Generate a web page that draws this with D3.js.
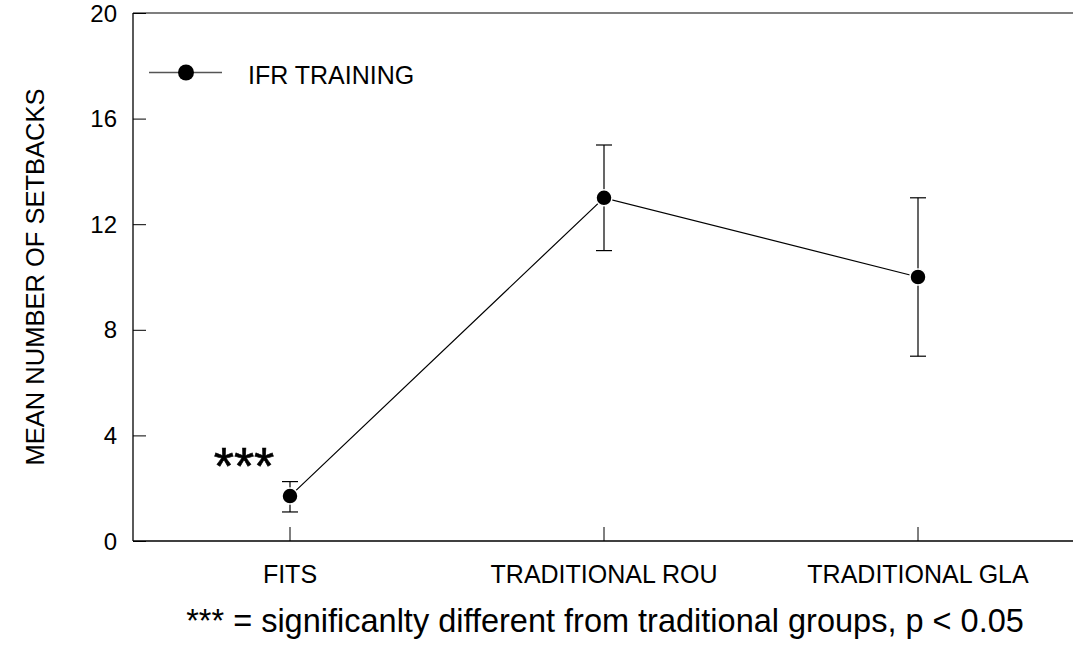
<!DOCTYPE html>
<html><head><meta charset="utf-8">
<script src="https://cdn.jsdelivr.net/npm/d3@7"></script>
<style>body{margin:0;background:#fff}svg{display:block}text{font-family:"Liberation Sans",Arial,sans-serif}</style>
</head><body>
<script>
const categories = ["FITS", "TRADITIONAL ROU", "TRADITIONAL GLA"];
const means = [1.7, 13.0, 10.0];
const upper = [2.25, 15.0, 13.0];
const lower = [1.1, 11.0, 7.0];
const yTicks = [0, 4, 8, 12, 16, 20];
const seriesName = "IFR TRAINING";

const W = 1073, H = 647;
const svg = d3.select("body").append("svg").attr("width", W).attr("height", H);
const x = d3.scaleBand().domain(categories).range([133, 1075]);
const y = d3.scaleLinear().domain([0, 20]).range([541, 13]);
const cx = d => x(d) + x.bandwidth() / 2;

// frame: left axis, bottom axis, top line
svg.append("line").attr("x1", 133).attr("x2", 1073).attr("y1", 13).attr("y2", 13).attr("stroke", "#555").attr("stroke-width", 1.5);
const yAxis = svg.append("g").attr("transform", "translate(133,0)")
  .call(d3.axisRight(y).tickValues(yTicks).tickSize(13).tickFormat(""));
const xAxis = svg.append("g").attr("transform", "translate(0,541)")
  .call(d3.axisTop(x).tickSize(14).tickFormat(""));
[yAxis, xAxis].forEach(g => {
  g.select(".domain").attr("stroke", "#000").attr("stroke-width", 1.3);
  g.selectAll(".tick line").attr("stroke", "#000").attr("stroke-width", 1);
});
xAxis.select(".domain").attr("d", "M133,0H1073");
yAxis.select(".domain").attr("d", "M0,541V13");

// tick labels
svg.selectAll(".ylab").data(yTicks).enter().append("text")
  .attr("x", 117).attr("y", d => y(d) + 8.5).attr("text-anchor", "end")
  .attr("font-size", 24).text(d => d);
svg.selectAll(".xlab").data(categories).enter().append("text")
  .attr("x", d => cx(d)).attr("y", 583).attr("text-anchor", "middle")
  .attr("font-size", 25).text(d => d);

// axis title
svg.append("text").attr("transform", "translate(44,277) rotate(-90)")
  .attr("text-anchor", "middle").attr("font-size", 25.5).text("MEAN NUMBER OF SETBACKS");

// footnote
svg.append("text").attr("x", 605).attr("y", 632).attr("text-anchor", "middle")
  .attr("font-size", 32.5).text("*** = significanlty different from traditional groups, p < 0.05");

// error bars
const eb = svg.append("g").attr("stroke", "#000").attr("stroke-width", 1.2);
categories.forEach((c, i) => {
  eb.append("line").attr("x1", cx(c)).attr("x2", cx(c)).attr("y1", y(upper[i])).attr("y2", y(lower[i]));
  eb.append("line").attr("x1", cx(c) - 8).attr("x2", cx(c) + 8).attr("y1", y(upper[i])).attr("y2", y(upper[i]));
  eb.append("line").attr("x1", cx(c) - 8).attr("x2", cx(c) + 8).attr("y1", y(lower[i])).attr("y2", y(lower[i]));
});

// line
const line = d3.line().x((d, i) => cx(categories[i])).y(d => y(d));
svg.append("path").datum(means).attr("d", line).attr("fill", "none").attr("stroke", "#000").attr("stroke-width", 1.2);

// markers
svg.selectAll(".pt").data(means).enter().append("circle")
  .attr("cx", (d, i) => cx(categories[i])).attr("cy", d => y(d)).attr("r", 8)
  .attr("fill", "#000").attr("stroke", "#fff").attr("stroke-width", 1.5);

// significance stars
svg.append("text").attr("x", 244).attr("y", 484).attr("text-anchor", "middle")
  .attr("font-size", 52).attr("stroke", "#000").attr("stroke-width", 0.6).text("***");

// legend
svg.append("line").attr("x1", 149).attr("x2", 222).attr("y1", 72.5).attr("y2", 72.5).attr("stroke", "#555").attr("stroke-width", 1.3);
svg.append("circle").attr("cx", 186).attr("cy", 72.5).attr("r", 8).attr("fill", "#000");
svg.append("text").attr("x", 248).attr("y", 84).attr("font-size", 25).text(seriesName);
</script>
</body></html>
